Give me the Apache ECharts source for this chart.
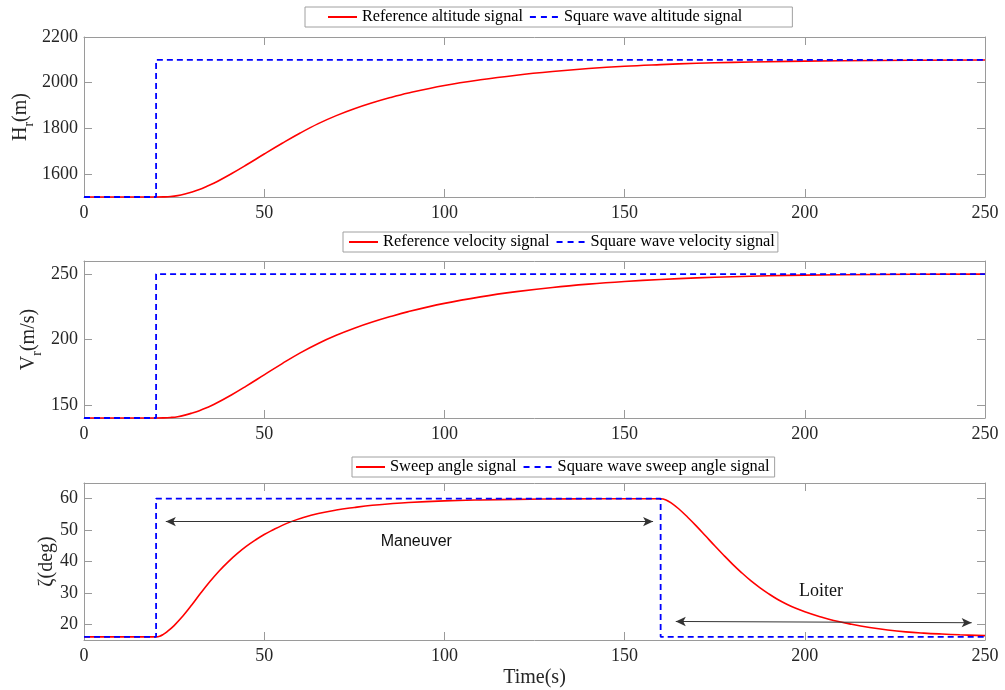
<!DOCTYPE html>
<html>
<head>
<meta charset="utf-8">
<script src="https://cdn.jsdelivr.net/npm/echarts@6/dist/echarts.min.js"></script>
<style>html,body{margin:0;padding:0;background:#fff}#c{width:1005px;height:690px}</style>
</head>
<body>
<div id="c"></div>
<script>
// ---- Data ----
const xTicks = [0, 50, 100, 150, 200, 250];
const hTicks = [1600, 1800, 2000, 2200];
const vTicks = [150, 200, 250];
const zTicks = [20, 30, 40, 50, 60];

const tAlt = [0, 20, 22, 24, 26, 28, 30, 32, 34, 36, 41, 45, 50, 55, 60, 65, 70, 75, 80, 85, 90, 100, 110, 120, 130, 140, 150, 160, 170, 180, 190, 200, 220, 250];
const refAlt = [1500, 1500, 1500.5, 1502, 1506, 1513, 1522, 1533, 1546, 1560, 1603, 1640, 1688, 1735, 1780, 1821, 1856, 1886, 1912, 1935, 1955, 1988, 2013, 2033, 2049, 2062, 2072, 2079, 2085, 2089, 2092, 2094.5, 2097.5, 2099.5];
const refVel = [140, 140, 140.1, 140.4, 141, 142.2, 143.8, 145.6, 147.8, 150.3, 157.8, 164.4, 173, 181.6, 189.8, 197, 203.2, 208.6, 213.3, 217.5, 221.3, 227.6, 232.6, 236.6, 239.8, 242.3, 244.3, 245.9, 247.1, 248, 248.7, 249.2, 249.7, 250];

const tSq = [0, 20, 20, 250];
const sqAlt = [1500, 1500, 2100, 2100];
const sqVel = [140, 140, 250, 250];

const tSweep = [0, 20, 21, 22, 23, 25, 27.5, 30, 32.5, 35, 37.5, 40, 42.5, 45, 47.5, 50, 52.5, 55, 57.5, 60, 65, 70, 75, 80, 85, 90, 100, 110, 120, 135, 150, 160,
  161.5, 163, 165, 167.5, 170, 172.5, 175, 177.5, 180, 182.5, 185, 187.5, 190, 192.5, 195, 197.5, 200, 204, 208, 213, 218, 223, 228, 233, 238, 243, 250];
const refSweep = [16, 16, 16.2, 16.8, 17.6, 19.6, 22.7, 26.3, 30.1, 33.7, 37, 39.9, 42.5, 44.8, 46.8, 48.6, 50.1, 51.5, 52.7, 53.7, 55.3, 56.4, 57.2, 57.9, 58.4, 58.8, 59.3, 59.6, 59.8, 59.95, 60, 60,
  59.6, 58.6, 56.8, 54.1, 51.2, 48.1, 45, 42, 39.1, 36.4, 33.9, 31.7, 29.7, 27.9, 26.4, 25.1, 24, 22.5, 21.2, 20, 19, 18.2, 17.6, 17.2, 16.9, 16.65, 16.4];
const tSqSweep = [0, 20, 20, 160, 160, 250];
const sqSweep = [16, 16, 60, 60, 16, 16];

const maneuverArrow = [[22.7, 52.7], [157.9, 52.7]];
const loiterArrow = [[164.2, 20.9], [246.3, 20.5]];
const annotNames = ['Maneuver', 'Loiter'];
const annotPos = [[92.2, 46.2], [204.5, 30.6]];

const legendNames = [
  ['Reference altitude signal', 'Square wave altitude signal'],
  ['Reference velocity signal', 'Square wave velocity signal'],
  ['Sweep angle signal', 'Square wave sweep angle signal']
];

// ---- Styling ----
const SERIF = 'Liberation Serif, Times New Roman, serif';
const AX = '#9a9a9a';
const TXT = '#262626';
const pair = (xs, ys) => xs.map((x, i) => [x, ys[i]]);
const plain = v => String(v);

const grids = [
  {left: 84, top: 37, width: 901, height: 160, containLabel: false, outerBoundsMode: 'none'},
  {left: 84, top: 261, width: 901, height: 157, containLabel: false, outerBoundsMode: 'none'},
  {left: 84, top: 483, width: 901, height: 157, containLabel: false, outerBoundsMode: 'none'}
];
const yRanges = [[1500, 2200, hTicks], [140, 260, vTicks], [15, 65, zTicks]];
const yNames = ['{a|H}{s|r}{a|(m)}', '{a|V}{s|r}{a|(m/s)}', '{a|ζ(deg)}'];
const yNameGaps = [48, 40, 22];

const rich = {
  a: {fontFamily: SERIF, fontSize: 20, lineHeight: 30, color: TXT},
  s: {fontFamily: SERIF, fontSize: 14, lineHeight: 20, verticalAlign: 'bottom', color: TXT}
};

const xAxes = [], yAxes = [];
grids.forEach((g, i) => {
  const base = {
    type: 'value', gridIndex: i, min: 0, max: 250, interval: 50,
    axisLine: {onZero: false, lineStyle: {color: AX, width: 1}},
    axisTick: {inside: true, length: 8, lineStyle: {color: AX}, customValues: xTicks},
    splitLine: {show: false}
  };
  xAxes.push(Object.assign({}, base, {
    position: 'bottom',
    axisLabel: {margin: 7, fontSize: 18, fontFamily: SERIF, color: TXT, customValues: xTicks, formatter: plain},
    name: i === 2 ? 'Time(s)' : '',
    nameLocation: 'middle', nameGap: 28, nameMoveOverlap: false,
    nameTextStyle: {fontFamily: SERIF, fontSize: 20, color: TXT}
  }));
  xAxes.push(Object.assign({}, base, {position: 'top', axisLabel: {show: false}}));
  const [mn, mx, ticks] = yRanges[i];
  const ybase = {
    type: 'value', gridIndex: i, min: mn, max: mx,
    axisLine: {show: true, onZero: false, lineStyle: {color: AX, width: 1}},
    axisTick: {show: true, inside: true, length: 8, lineStyle: {color: AX}, customValues: ticks},
    splitLine: {show: false}
  };
  yAxes.push(Object.assign({}, ybase, {
    position: 'left',
    axisLabel: {margin: 6, fontSize: 18, fontFamily: SERIF, color: TXT, customValues: ticks, formatter: plain},
    name: yNames[i], nameLocation: 'middle', nameGap: yNameGaps[i], nameMoveOverlap: false,
    nameTextStyle: {rich: rich}
  }));
  yAxes.push(Object.assign({}, ybase, {position: 'right', axisLabel: {show: false}}));
});

const redLine = {color: '#ff0000', width: 1.6, type: 'solid'};
const blueLine = {color: '#0000ff', width: 1.8, type: [6, 4]};

function mkSeries(i, name, data, ls, extra) {
  return Object.assign({
    type: 'line', name: name, xAxisIndex: 2 * i, yAxisIndex: 2 * i,
    data: data, symbol: 'none', showSymbol: false, clip: false,
    lineStyle: ls, itemStyle: {color: ls.color}, z: ls === blueLine ? 3 : 2
  }, extra || {});
}

const SM = {smooth: 0.4};
const series = [
  mkSeries(0, legendNames[0][0], pair(tAlt, refAlt), redLine, SM),
  mkSeries(0, legendNames[0][1], pair(tSq, sqAlt), blueLine),
  mkSeries(1, legendNames[1][0], pair(tAlt, refVel), redLine, SM),
  mkSeries(1, legendNames[1][1], pair(tSq, sqVel), blueLine),
  mkSeries(2, legendNames[2][0], pair(tSweep, refSweep), redLine, {
    smooth: 0.4,
    markPoint: {
      silent: true, symbol: 'circle', symbolSize: 1,
      itemStyle: {color: 'rgba(0,0,0,0)'},
      label: {show: true, position: 'inside', formatter: '{b}', color: '#111'},
      data: annotNames.map((n, k) => ({
        name: n, coord: annotPos[k],
        label: k === 0 ? {fontFamily: 'Liberation Sans, Arial, sans-serif', fontSize: 16}
                       : {fontFamily: SERIF, fontSize: 18}
      }))
    }
  }),
  mkSeries(2, legendNames[2][1], pair(tSqSweep, sqSweep), blueLine, {
    markLine: {
      silent: true, symbol: ['arrow', 'arrow'], symbolSize: [7, 10],
      lineStyle: {color: '#333', width: 1, type: 'solid'},
      label: {show: false},
      data: [
        [{coord: maneuverArrow[0]}, {coord: maneuverArrow[1]}],
        [{coord: loiterArrow[0]}, {coord: loiterArrow[1]}]
      ]
    }
  })
];

const legendPos = [
  {left: 305, top: 7, padding: [2, 50, 2, 22]},
  {left: 343, top: 232, padding: [2, 3, 2, 5]},
  {left: 352, top: 457, padding: [2, 5, 2, 3]}
];
const legendFont = [16.2, 16.4, 16.4];
const legends = legendNames.map((names, i) => Object.assign({
  data: [{name: names[0]}, {name: names[1], lineStyle: {type: [6, 5]}}],
  orient: 'horizontal', itemWidth: 29, itemHeight: 10, itemGap: 6,
  backgroundColor: '#fff', borderColor: '#a0a0a0', borderWidth: 1, borderRadius: 0,
  itemStyle: {opacity: 0},
  textStyle: {fontFamily: SERIF, fontSize: legendFont[i], color: '#000'},
  selectedMode: false
}, legendPos[i]));

const chart = echarts.init(document.getElementById('c'), null, {renderer: 'canvas'});
chart.setOption({
  animation: false,
  backgroundColor: '#fff',
  grid: grids,
  xAxis: xAxes,
  yAxis: yAxes,
  legend: legends,
  series: series
});
</script>
</body>
</html>
